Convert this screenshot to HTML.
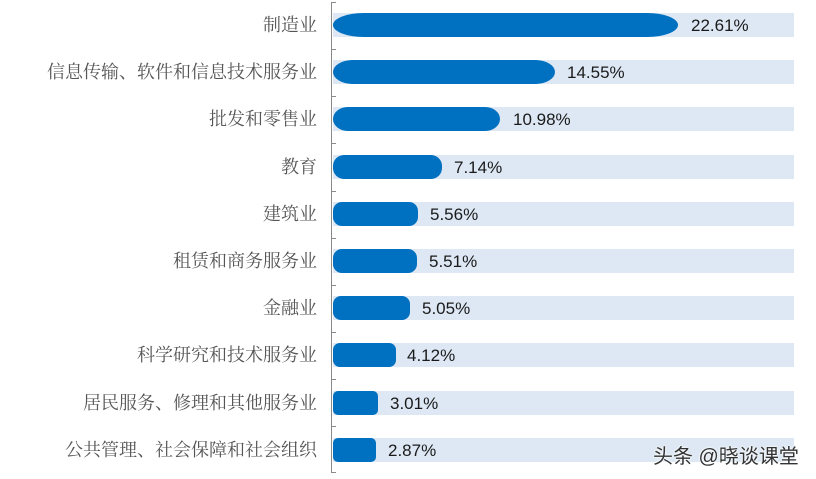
<!DOCTYPE html>
<html><head><meta charset="utf-8"><style>
html,body{margin:0;padding:0;background:#fff;}
#c{position:relative;width:816px;height:479px;overflow:hidden;background:#fff;}
.lab{position:absolute;right:499px;height:24px;line-height:24px;font-family:"Liberation Serif","Noto Serif CJK SC",serif;font-size:18px;color:#555;white-space:nowrap;text-align:right;}
.bg{position:absolute;left:333px;width:461px;height:24px;background:#dde8f4;}
.bar{position:absolute;left:333px;height:24px;background:#0070c0;}
.val{position:absolute;height:24px;line-height:26px;font-family:"Liberation Sans",sans-serif;font-size:17px;color:#1a1a1a;white-space:nowrap;}
.axis{position:absolute;left:331px;top:2px;width:1px;height:471px;background:#8a8a8a;}
.tick{position:absolute;left:331px;width:5px;height:1px;background:#8a8a8a;}
.wm{position:absolute;left:653px;top:440px;font-family:"Liberation Sans","Noto Sans CJK SC",sans-serif;font-size:20px;color:#333;white-space:nowrap;text-shadow:0 0 2px #fff,0 0 2px #fff;}
</style></head><body><div id="c">
<div class="axis"></div>
<div class="tick" style="top:2px"></div>
<div class="tick" style="top:49px"></div>
<div class="tick" style="top:96px"></div>
<div class="tick" style="top:143px"></div>
<div class="tick" style="top:191px"></div>
<div class="tick" style="top:238px"></div>
<div class="tick" style="top:285px"></div>
<div class="tick" style="top:332px"></div>
<div class="tick" style="top:379px"></div>
<div class="tick" style="top:426px"></div>
<div class="tick" style="top:472px"></div>

<div class="lab" style="top:13px">制造业</div>
<div class="bg" style="top:13px"></div>
<div class="bar" style="top:13px;width:345px;border-radius:31px / 12px"></div>
<div class="val" style="top:13px;left:691px">22.61%</div>

<div class="lab" style="top:60px">信息传输、软件和信息技术服务业</div>
<div class="bg" style="top:60px"></div>
<div class="bar" style="top:60px;width:222px;border-radius:20px / 12px"></div>
<div class="val" style="top:60px;left:567px">14.55%</div>

<div class="lab" style="top:107px">批发和零售业</div>
<div class="bg" style="top:107px"></div>
<div class="bar" style="top:107px;width:167px;border-radius:15px / 12px"></div>
<div class="val" style="top:107px;left:513px">10.98%</div>

<div class="lab" style="top:155px">教育</div>
<div class="bg" style="top:155px"></div>
<div class="bar" style="top:155px;width:109px;border-radius:11px / 11px"></div>
<div class="val" style="top:155px;left:454px">7.14%</div>

<div class="lab" style="top:202px">建筑业</div>
<div class="bg" style="top:202px"></div>
<div class="bar" style="top:202px;width:85px;border-radius:9px / 9px"></div>
<div class="val" style="top:202px;left:430px">5.56%</div>

<div class="lab" style="top:249px">租赁和商务服务业</div>
<div class="bg" style="top:249px"></div>
<div class="bar" style="top:249px;width:84px;border-radius:9px / 9px"></div>
<div class="val" style="top:249px;left:429px">5.51%</div>

<div class="lab" style="top:296px">金融业</div>
<div class="bg" style="top:296px"></div>
<div class="bar" style="top:296px;width:77px;border-radius:8px / 8px"></div>
<div class="val" style="top:296px;left:422px">5.05%</div>

<div class="lab" style="top:343px">科学研究和技术服务业</div>
<div class="bg" style="top:343px"></div>
<div class="bar" style="top:343px;width:63px;border-radius:7px / 7px"></div>
<div class="val" style="top:343px;left:407px">4.12%</div>

<div class="lab" style="top:391px">居民服务、修理和其他服务业</div>
<div class="bg" style="top:391px"></div>
<div class="bar" style="top:391px;width:45px;border-radius:5px / 5px"></div>
<div class="val" style="top:391px;left:390px">3.01%</div>

<div class="lab" style="top:438px">公共管理、社会保障和社会组织</div>
<div class="bg" style="top:438px"></div>
<div class="bar" style="top:438px;width:43px;border-radius:5px / 5px"></div>
<div class="val" style="top:438px;left:388px">2.87%</div>

<div class="wm">头条 @晓谈课堂</div>
</div></body></html>
